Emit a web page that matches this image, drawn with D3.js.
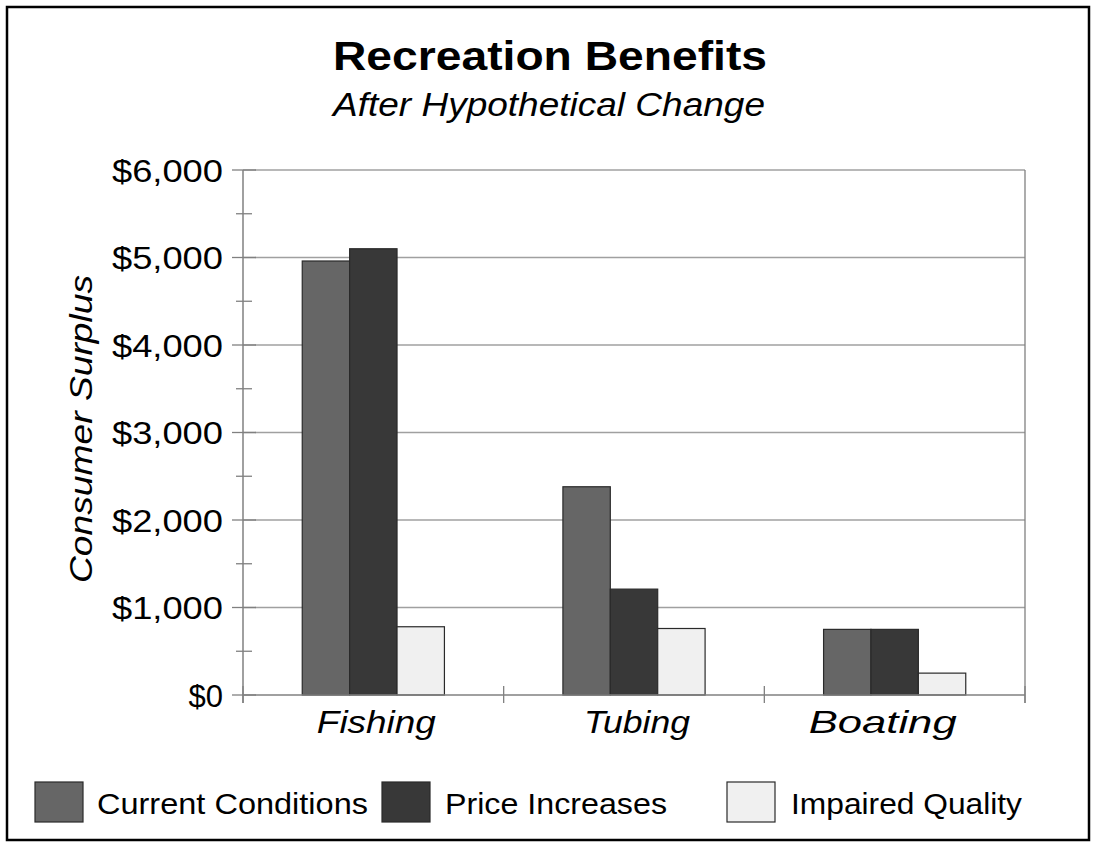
<!DOCTYPE html>
<html><head><meta charset="utf-8">
<script src="https://cdn.jsdelivr.net/npm/d3@7"></script>
<style>body{margin:0;background:#fff}svg{display:block;font-family:Arial,"Liberation Sans",sans-serif}</style>
</head><body><svg id="c" width="1095" height="857"></svg>
<script>
const categories = ["Fishing", "Tubing", "Boating"];
const seriesNames = ["Current Conditions", "Price Increases", "Impaired Quality"];
const currentConditions = [4960, 2380, 750];
const priceIncreases = [5100, 1210, 750];
const impairedQuality = [780, 760, 250];
const yTicks = [0, 1000, 2000, 3000, 4000, 5000, 6000];
const seriesColors = ["#666666", "#383838", "#f0f0f0"];

const seriesValues = [currentConditions, priceIncreases, impairedQuality];
const svg = d3.select("#c");
const L = 243, R = 1025, T = 170, B = 695;

svg.append("rect").attr("x", 7).attr("y", 7).attr("width", 1082).attr("height", 833)
  .attr("fill", "#fff").attr("stroke", "#000").attr("stroke-width", 2.5);

const y = d3.scaleLinear().domain([0, 6000]).range([B, T]);
const x0 = d3.scaleBand().domain(categories).range([L, R]).paddingInner(0).paddingOuter(0);
const x1 = d3.scaleBand().domain(seriesNames).range([0, x0.bandwidth()]).paddingInner(0).paddingOuter(1.25);

// gridlines
svg.append("g").selectAll("line").data(yTicks.filter(d => d > 0)).join("line")
  .attr("x1", L).attr("x2", R).attr("y1", d => y(d)).attr("y2", d => y(d))
  .attr("stroke", "#a0a0a0").attr("stroke-width", 1.3);
// right frame
svg.append("line").attr("x1", R).attr("x2", R).attr("y1", T).attr("y2", B + 8)
  .attr("stroke", "#808080").attr("stroke-width", 1.3);

// bars
const g = svg.append("g");
categories.forEach((c, i) => {
  seriesNames.forEach((s, j) => {
    const v = seriesValues[j][i];
    g.append("rect")
      .attr("x", x0(c) + x1(s)).attr("width", x1.bandwidth())
      .attr("y", y(v)).attr("height", y(0) - y(v))
      .attr("fill", seriesColors[j]).attr("stroke", "#2a2a2a").attr("stroke-width", 1.2);
  });
});

// y axis
const yAxis = d3.axisLeft(y).tickValues(yTicks).tickSize(0).tickPadding(0)
  .tickFormat(d => "$" + d3.format(",")(d));
const ya = svg.append("g").attr("transform", `translate(${L},0)`).call(yAxis);
ya.select(".domain").remove();
ya.selectAll("text").attr("x", -20).attr("dy", "0.36em").attr("font-size", 31)
  .attr("font-family", "Arial, 'Liberation Sans', sans-serif").attr("fill", "#000")
  .attr("textLength", d => d === 0 ? null : 111).attr("lengthAdjust", "spacingAndGlyphs");
svg.append("line").attr("x1", L).attr("x2", L).attr("y1", T).attr("y2", B + 8)
  .attr("stroke", "#808080").attr("stroke-width", 1.5);
// major ticks
svg.append("g").selectAll("line").data(yTicks).join("line")
  .attr("x1", L - 11).attr("x2", L + 13).attr("y1", d => y(d)).attr("y2", d => y(d))
  .attr("stroke", "#808080").attr("stroke-width", 1.3);
// minor ticks
svg.append("g").selectAll("line").data(d3.range(500, 6000, 1000)).join("line")
  .attr("x1", L - 7).attr("x2", L + 9).attr("y1", d => y(d)).attr("y2", d => y(d))
  .attr("stroke", "#808080").attr("stroke-width", 1.3);

// x axis
svg.append("line").attr("x1", L).attr("x2", R).attr("y1", B).attr("y2", B)
  .attr("stroke", "#808080").attr("stroke-width", 1.5);
const bounds = categories.map(c => x0(c)).concat([R]);
svg.append("g").selectAll("line").data(bounds).join("line")
  .attr("x1", d => d).attr("x2", d => d).attr("y1", B - 9).attr("y2", B + 8)
  .attr("stroke", "#808080").attr("stroke-width", 1.3);
const xLabelWidths = { Fishing: 119, Tubing: 106, Boating: 148 };
const xLabelShift = { Fishing: 3, Tubing: 3, Boating: -12 };
svg.append("g").selectAll("text").data(categories).join("text")
  .attr("x", d => x0(d) + x0.bandwidth() / 2 + xLabelShift[d]).attr("y", 733)
  .attr("text-anchor", "middle").attr("font-size", 32).attr("font-style", "italic")
  .attr("textLength", d => xLabelWidths[d]).attr("lengthAdjust", "spacingAndGlyphs")
  .text(d => d);

// titles
svg.append("text").attr("x", 550).attr("y", 70).attr("text-anchor", "middle")
  .attr("font-size", 40).attr("font-weight", "bold")
  .attr("textLength", 434).attr("lengthAdjust", "spacingAndGlyphs")
  .text("Recreation Benefits");
svg.append("text").attr("x", 549).attr("y", 116).attr("text-anchor", "middle")
  .attr("font-size", 33).attr("font-style", "italic")
  .attr("textLength", 432).attr("lengthAdjust", "spacingAndGlyphs")
  .text("After Hypothetical Change");
svg.append("text").attr("transform", "translate(92,429) rotate(-90)")
  .attr("text-anchor", "middle").attr("font-size", 32).attr("font-style", "italic")
  .attr("textLength", 308).attr("lengthAdjust", "spacingAndGlyphs")
  .text("Consumer Surplus");

// legend
const legendX = [35, 382, 727];
const legendTextX = [97, 445, 791];
const legendW = [271, 222, 231];
const lg = svg.append("g");
seriesNames.forEach((s, j) => {
  lg.append("rect").attr("x", legendX[j]).attr("y", 782).attr("width", 48).attr("height", 40)
    .attr("fill", seriesColors[j]).attr("stroke", "#2a2a2a").attr("stroke-width", 1.2);
  lg.append("text").attr("x", legendTextX[j]).attr("y", 814).attr("font-size", 30)
    .attr("textLength", legendW[j]).attr("lengthAdjust", "spacingAndGlyphs").text(s);
});
</script></body></html>
